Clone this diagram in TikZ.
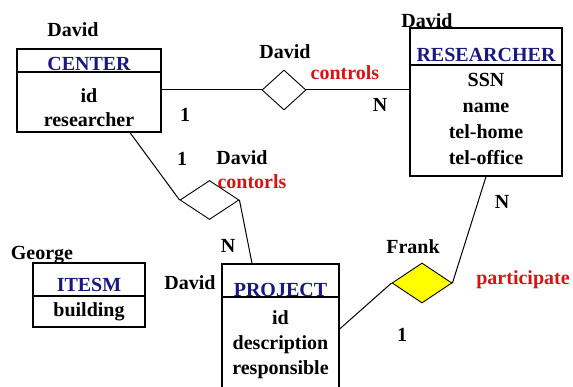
\documentclass[tikz,border=0pt]{standalone}
\usepackage{fontspec}
\setmainfont{Liberation Serif}
\usetikzlibrary{shapes.geometric}
\definecolor{hdr}{RGB}{25,25,125}
\definecolor{lbl}{RGB}{215,20,20}
\definecolor{yel}{RGB}{255,255,0}
\begin{document}
\begin{tikzpicture}[x=1pt,y=-1pt,
  every node/.style={font=\bfseries\fontsize{20}{24}\selectfont,inner sep=0},
  ent/.style={draw,line width=1.3pt,inner sep=0},
  divider/.style={line width=1.3pt},
  hdrtxt/.style={text=hdr},
  attr/.style={align=center},
  rel/.style={diamond,draw,line width=0.9pt,inner sep=0},
  conn/.style={line width=1pt},
  lab/.style={text=black},
  red/.style={text=lbl}]
\clip (0,0) rectangle (573,387);
\fill[white] (0,0) rectangle (573,387);

% CENTER entity
\node[ent,minimum width=144,minimum height=83] (center) at (89,90.5) {};
\draw[divider] (center.west |- 0,72) -- (center.east |- 0,72);
\node[hdrtxt] (centerH) at (89,64) {CENTER};
\node[attr,font=\bfseries\fontsize{20}{24}\selectfont] (centerA) at (89,107.5) {id\\researcher};

% RESEARCHER entity
\node[ent,minimum width=152,minimum height=148] (researcher) at (486,102) {};
\draw[divider] (researcher.west |- 0,65) -- (researcher.east |- 0,65);
\node[hdrtxt] (researcherH) at (486,55) {RESEARCHER};
\node[attr,font=\bfseries\fontsize{20}{26}\selectfont] (researcherA) at (486,118.5) {SSN\\name\\tel-home\\tel-office};

% PROJECT entity
\node[ent,minimum width=117,minimum height=140] (project) at (280.5,334) {};
\draw[divider] (project.west |- 0,297) -- (project.east |- 0,297);
\node[hdrtxt] (projectH) at (280.5,290) {PROJECT};
\node[attr,font=\bfseries\fontsize{20}{25}\selectfont] (projectA) at (280.5,345) {id\\description\\responsible};

% ITESM entity
\node[ent,minimum width=112,minimum height=64] (itesm) at (89,295) {};
\draw[divider] (itesm.west |- 0,296) -- (itesm.east |- 0,296);
\node[hdrtxt] (itesmH) at (89,285) {ITESM};
\node[attr] (itesmA) at (89,312) {building};

% relationships
\node[rel,minimum width=44,minimum height=40] (d1) at (284,90) {};
\node[rel,minimum width=59,minimum height=39] (d2) at (209.5,200) {};
\node[rel,fill=yel,minimum width=60,minimum height=40] (d3) at (422,283) {};

% connectors
\draw[conn] (center.east |- d1.west) -- (d1.west);
\draw[conn] (d1.east) -- (d1.east -| researcher.west);
\draw[conn] ([xshift=41]center.south) -- (d2.west);
\draw[conn] (d2.east) -- ([xshift=-28.5]project.north);
\draw[conn] (d3.west) -- ([yshift=5]project.east);
\draw[conn] (d3.east) -- (researcher.south);

% labels
\node[lab] (lCenter) at (73,30) {David};
\node[lab] (lD1) at (285,52) {David};
\node[red] (rD1) at (345,73) {controls};
\node[lab] (c1a) at (185,115) {1};
\node[lab] (c1b) at (380,105) {N};
\node[lab] (lRes) at (427,21) {David};
\node[lab] (c3b) at (502,202) {N};
\node[lab] (lD3) at (413,247) {Frank};
\node[red] (rD3) at (523,280) {participate};
\node[lab] (c3a) at (402,335) {1};
\node[lab] (c2a) at (182,159) {1};
\node[lab] (lD2) at (242,158) {David};
\node[red] (rD2) at (252,182) {contorls};
\node[lab] (c2b) at (228,246) {N};
\node[lab] (lProj) at (190,283) {David};
\node[lab] (lItesm) at (42,255) {George};
\end{tikzpicture}
\end{document}
